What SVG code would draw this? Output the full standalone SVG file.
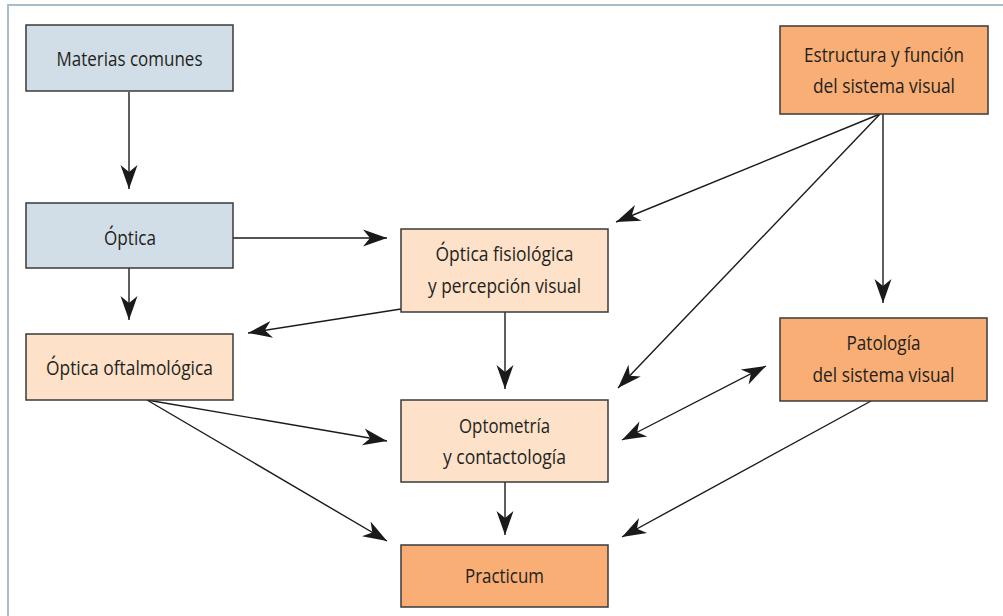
<svg xmlns="http://www.w3.org/2000/svg" width="1003" height="616" viewBox="0 0 1003 616">
<style>
.box{stroke:#3a3a3a;stroke-width:1.5}
.blue{fill:#d2dee7}
.peach{fill:#fde1c8}
.orange{fill:#f8ae74}
text{font-family:"Open Sans","Noto Sans",sans-serif;font-size:20.5px;fill:#231f20;text-anchor:middle;dominant-baseline:central}
.c{stroke:#1a1a1a;stroke-width:1.4;fill:none;marker-end:url(#ah)}
.frame{stroke:#a7bccc;stroke-width:2;fill:none}
</style>
<defs>
<marker id="ah" markerUnits="userSpaceOnUse" markerWidth="30" markerHeight="22" viewBox="-26 -11 28 22" refX="0" refY="0" orient="auto">
<path d="M0,0 L-24,-8.5 L-17,0 L-24,8.5 Z" fill="#1a1a1a"/>
</marker>
<marker id="ahs" markerUnits="userSpaceOnUse" markerWidth="30" markerHeight="22" viewBox="-26 -11 28 22" refX="0" refY="0" orient="auto-start-reverse">
<path d="M0,0 L-24,-8.5 L-17,0 L-24,8.5 Z" fill="#1a1a1a"/>
</marker>
</defs>
<rect width="1003" height="616" fill="#ffffff"/>
<path class="frame" d="M8,616 V5 H1003"/>
<g id="connectors">
<line class="c" x1="129" y1="92" x2="129" y2="189"/>
<line class="c" x1="129" y1="268" x2="129" y2="320"/>
<line class="c" x1="233" y1="238" x2="387" y2="238"/>
<line class="c" x1="401" y1="309" x2="248" y2="333"/>
<line class="c" x1="505" y1="312" x2="505" y2="389"/>
<line class="c" x1="147" y1="400" x2="387" y2="441"/>
<line class="c" x1="147" y1="400" x2="387" y2="541"/>
<line class="c" x1="505" y1="482" x2="505" y2="535"/>
<line class="c" x1="880" y1="114" x2="616" y2="222"/>
<line class="c" x1="880" y1="114" x2="618" y2="388"/>
<line class="c" x1="883" y1="114" x2="883" y2="303"/>
<line class="c" x1="622" y1="440" x2="766" y2="366" marker-start="url(#ahs)"/>
<line class="c" x1="871" y1="401" x2="622" y2="537"/>
</g>
<g id="materias">
<rect class="box blue" x="26" y="25" width="207" height="66"/>
<text x="129.5" y="58" textLength="146" lengthAdjust="spacingAndGlyphs">Materias comunes</text>
</g>
<g id="estructura">
<rect class="box orange" x="780" y="26" width="208" height="88"/>
<text x="884" y="54" textLength="160" lengthAdjust="spacingAndGlyphs">Estructura y función</text>
<text x="884" y="85" textLength="142" lengthAdjust="spacingAndGlyphs">del sistema visual</text>
</g>
<g id="optica">
<rect class="box blue" x="26" y="203" width="207" height="65"/>
<text x="130" y="237" textLength="52" lengthAdjust="spacingAndGlyphs">Óptica</text>
</g>
<g id="fisiologica">
<rect class="box peach" x="401" y="229" width="207" height="83"/>
<text x="504.5" y="253" textLength="138" lengthAdjust="spacingAndGlyphs">Óptica fisiológica</text>
<text x="504.5" y="285" textLength="153" lengthAdjust="spacingAndGlyphs">y percepción visual</text>
</g>
<g id="oftalmologica">
<rect class="box peach" x="26" y="334" width="207" height="66"/>
<text x="129.5" y="367" textLength="167" lengthAdjust="spacingAndGlyphs">Óptica oftalmológica</text>
</g>
<g id="optometria">
<rect class="box peach" x="401" y="400" width="207" height="82"/>
<text x="504.5" y="425" textLength="91" lengthAdjust="spacingAndGlyphs">Optometría</text>
<text x="504.5" y="456" textLength="123" lengthAdjust="spacingAndGlyphs">y contactología</text>
</g>
<g id="patologia">
<rect class="box orange" x="780" y="318" width="207" height="83"/>
<text x="883.5" y="342" textLength="74" lengthAdjust="spacingAndGlyphs">Patología</text>
<text x="883.5" y="374" textLength="142" lengthAdjust="spacingAndGlyphs">del sistema visual</text>
</g>
<g id="practicum">
<rect class="box orange" x="401" y="545" width="207" height="62"/>
<text x="504.5" y="575" textLength="79" lengthAdjust="spacingAndGlyphs">Practicum</text>
</g>
</svg>
